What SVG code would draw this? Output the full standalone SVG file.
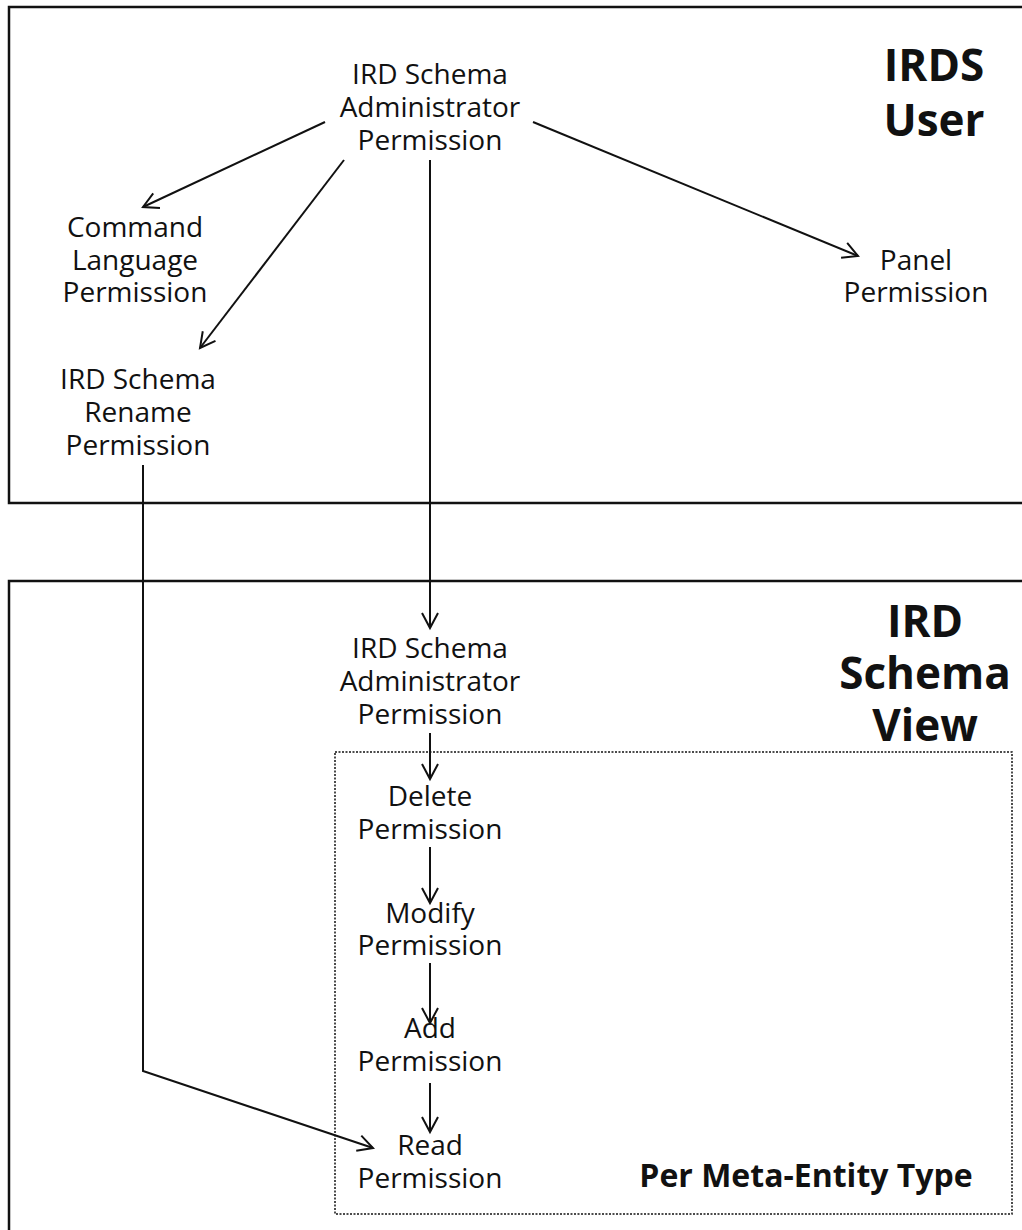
<svg xmlns="http://www.w3.org/2000/svg" width="1022" height="1230" viewBox="0 0 1022 1230">
<style>
.t{font-family:"Open Sans","Noto Sans",sans-serif;font-size:28px;fill:#111;text-anchor:middle}
.b{font-family:"Open Sans","Noto Sans",sans-serif;font-weight:bold;font-size:44px;fill:#111;text-anchor:middle}
.pm{font-family:"Open Sans","Noto Sans",sans-serif;font-weight:bold;font-size:32px;fill:#111;text-anchor:middle}
.c{fill:none;stroke:#111;stroke-width:2}
</style>
<defs>
<marker id="a" markerWidth="20" markerHeight="20" refX="16" refY="9" orient="auto" markerUnits="userSpaceOnUse" viewBox="0 0 20 18">
<path d="M1,1 L16,9 L1,17" fill="none" stroke="#111" stroke-width="2"/>
</marker>
</defs>
<rect width="1022" height="1230" fill="#fff"/>
<g id="frames" fill="none" stroke="#111">
<path d="M1030,7 H9 V503 H1030" stroke-width="2.5"/>
<path d="M1030,581 H9 V1240" stroke-width="2.5"/>
<rect x="335" y="752" width="677" height="462" stroke-width="1.5" stroke-dasharray="2,1.5"/>
</g>
<g id="title-user"><text class="b" x="934" y="81">IRDS</text><text class="b" x="934" y="136">User</text></g>
<g id="title-view"><text class="b" x="925" y="637">IRD</text><text class="b" x="925" y="689">Schema</text><text class="b" x="925" y="741">View</text></g>
<g id="per-type"><text class="pm" x="806" y="1187">Per Meta-Entity Type</text></g>
<g id="n-admin1"><text class="t" x="430" y="84">IRD Schema</text><text class="t" x="430" y="117">Administrator</text><text class="t" x="430" y="150">Permission</text></g>
<g id="n-command"><text class="t" x="135" y="237">Command</text><text class="t" x="135" y="270">Language</text><text class="t" x="135" y="302">Permission</text></g>
<g id="n-panel"><text class="t" x="916" y="270">Panel</text><text class="t" x="916" y="302">Permission</text></g>
<g id="n-rename"><text class="t" x="138" y="389">IRD Schema</text><text class="t" x="138" y="422">Rename</text><text class="t" x="138" y="455">Permission</text></g>
<g id="n-admin2"><text class="t" x="430" y="658">IRD Schema</text><text class="t" x="430" y="691">Administrator</text><text class="t" x="430" y="724">Permission</text></g>
<g id="n-delete"><text class="t" x="430" y="806">Delete</text><text class="t" x="430" y="839">Permission</text></g>
<g id="n-modify"><text class="t" x="430" y="923">Modify</text><text class="t" x="430" y="955">Permission</text></g>
<g id="n-add"><text class="t" x="430" y="1038">Add</text><text class="t" x="430" y="1071">Permission</text></g>
<g id="n-read"><text class="t" x="430" y="1155">Read</text><text class="t" x="430" y="1188">Permission</text></g>
<g id="connectors" class="c">
<path class="c" d="M325,122 L143,207" marker-end="url(#a)"/>
<path class="c" d="M344,160 L200,348" marker-end="url(#a)"/>
<path class="c" d="M533,122 L858,256" marker-end="url(#a)"/>
<path class="c" d="M430,160 V628" marker-end="url(#a)"/>
<path class="c" d="M430,733 V779" marker-end="url(#a)"/>
<path class="c" d="M430,847 V903" marker-end="url(#a)"/>
<path class="c" d="M430,963 V1023" marker-end="url(#a)"/>
<path class="c" d="M430,1083 V1132" marker-end="url(#a)"/>
<path class="c" d="M143,465 V1071 L373,1148" marker-end="url(#a)"/>
</g>
</svg>
